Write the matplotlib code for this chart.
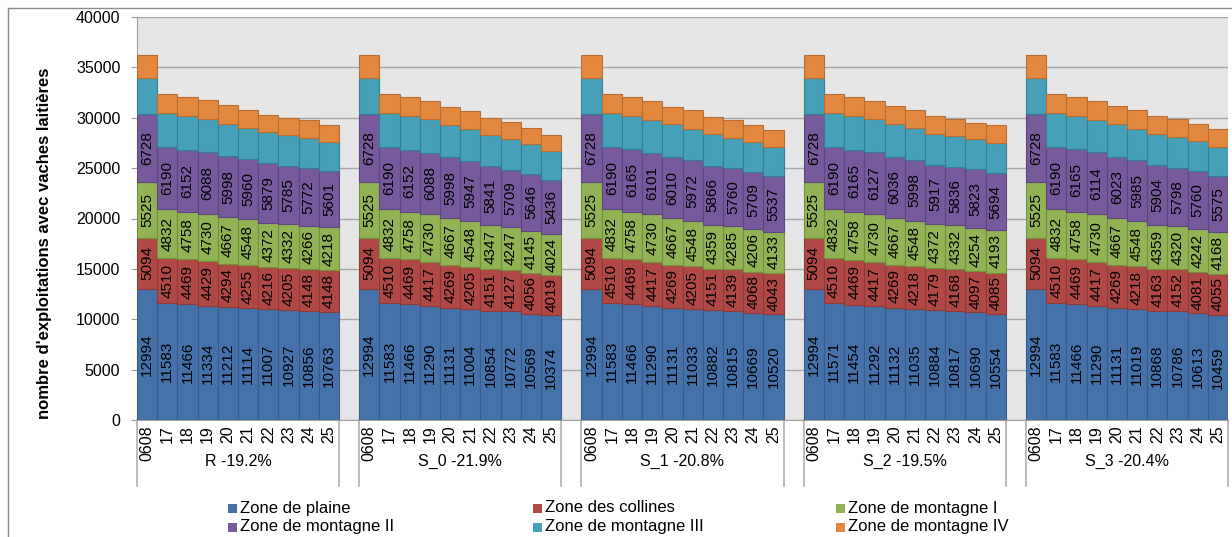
import numpy as np
import matplotlib
matplotlib.use("Agg")
import matplotlib.pyplot as plt
from matplotlib.patches import Rectangle
from matplotlib.lines import Line2D

plt.rcParams["font.family"] = ["Liberation Sans", "DejaVu Sans"]

years = ["0608", "17", "18", "19", "20", "21", "22", "23", "24", "25"]
scenarios = ["R -19.2%", "S_0 -21.9%", "S_1 -20.8%", "S_2 -19.5%", "S_3 -20.4%"]

zones = ["Zone de plaine", "Zone des collines", "Zone de montagne I",
         "Zone de montagne II", "Zone de montagne III", "Zone de montagne IV"]
colors = ["#4672AA", "#B04945", "#91B255", "#765A9C", "#45A0B8", "#E2873E"]
edges = ["#385C8C", "#8E3A37", "#75913F", "#5E477F", "#357F93", "#B86D31"]

# one row per scenario, one value per year
plaine = [
    [12994, 11583, 11466, 11334, 11212, 11114, 11007, 10927, 10856, 10763],
    [12994, 11583, 11466, 11290, 11131, 11004, 10854, 10772, 10569, 10374],
    [12994, 11583, 11466, 11290, 11131, 11033, 10882, 10815, 10669, 10520],
    [12994, 11571, 11454, 11292, 11132, 11035, 10884, 10817, 10690, 10554],
    [12994, 11583, 11466, 11290, 11131, 11019, 10868, 10786, 10613, 10459],
]
collines = [
    [5094, 4510, 4469, 4429, 4294, 4255, 4216, 4205, 4148, 4148],
    [5094, 4510, 4469, 4417, 4269, 4205, 4151, 4127, 4056, 4019],
    [5094, 4510, 4469, 4417, 4269, 4205, 4151, 4139, 4068, 4043],
    [5094, 4510, 4469, 4417, 4269, 4218, 4179, 4168, 4097, 4085],
    [5094, 4510, 4469, 4417, 4269, 4218, 4163, 4152, 4081, 4055],
]
montagne1 = [
    [5525, 4832, 4758, 4730, 4667, 4548, 4372, 4332, 4266, 4218],
    [5525, 4832, 4758, 4730, 4667, 4548, 4347, 4247, 4145, 4024],
    [5525, 4832, 4758, 4730, 4667, 4548, 4359, 4285, 4206, 4133],
    [5525, 4832, 4758, 4730, 4667, 4548, 4372, 4332, 4254, 4193],
    [5525, 4832, 4758, 4730, 4667, 4548, 4359, 4320, 4242, 4168],
]
montagne2 = [
    [6728, 6190, 6152, 6088, 5998, 5960, 5879, 5785, 5772, 5601],
    [6728, 6190, 6152, 6088, 5998, 5947, 5841, 5709, 5646, 5436],
    [6728, 6190, 6165, 6101, 6010, 5972, 5866, 5760, 5709, 5537],
    [6728, 6190, 6165, 6127, 6036, 5998, 5917, 5836, 5823, 5694],
    [6728, 6190, 6165, 6114, 6023, 5985, 5904, 5798, 5760, 5575],
]
montagne3 = [
    [3648, 3392, 3331, 3329, 3242, 3105, 3110, 3070, 2945, 2859],
    [3648, 3392, 3331, 3319, 3248, 3145, 3126, 2999, 2974, 2841],
    [3648, 3392, 3318, 3273, 3270, 3158, 3094, 2988, 2937, 2859],
    [3648, 3404, 3330, 3344, 3243, 3183, 3066, 3033, 3057, 2997],
    [3648, 3392, 3318, 3260, 3257, 3146, 3058, 3031, 2993, 2868],
]
montagne4 = [
    [2255, 1890, 1890, 1824, 1824, 1790, 1724, 1691, 1758, 1724],
    [2255, 1890, 1890, 1791, 1758, 1791, 1691, 1692, 1625, 1625],
    [2255, 1890, 1890, 1824, 1724, 1823, 1724, 1758, 1658, 1658],
    [2255, 1890, 1890, 1725, 1790, 1757, 1791, 1724, 1591, 1724],
    [2255, 1890, 1890, 1824, 1790, 1823, 1790, 1757, 1724, 1724],
]
series = [plaine, collines, montagne1, montagne2, montagne3, montagne4]
labelled = 4  # only the four lower zones carry value labels

W, H = 1232, 537
fig = plt.figure(figsize=(W / 100, H / 100), dpi=100)
ax = fig.add_axes([137 / W, (H - 420) / H, 1091 / W, 403 / H])
ax.set_facecolor("#E6E6E6")

n_years = len(years)
step = n_years + 1  # one empty slot between scenarios
x = np.array([g * step + i for g in range(len(scenarios)) for i in range(n_years)])

bottom = np.zeros(len(x))
for k, (zone, vals) in enumerate(zip(zones, series)):
    v = np.array(vals).ravel()
    bars = ax.bar(x, v, width=1.0, bottom=bottom, color=colors[k],
                  edgecolor=edges[k], linewidth=0.8, label=zone, zorder=3)
    if k < labelled:
        ax.bar_label(bars, labels=[str(t) for t in v], label_type="center",
                     rotation=90, fontsize=11, color="black")
    bottom += v

ax.set_ylim(0, 40000)
ax.set_xlim(-0.5, len(scenarios) * step - 1.5)
ax.set_yticks(np.arange(0, 40001, 5000))
ax.yaxis.grid(True, color="#A6A6A6", linewidth=1.0, zorder=0)
ax.set_axisbelow(True)
ax.tick_params(axis="y", labelsize=11.5, length=4, color="#A0A0A0", pad=8)

ax.set_xticks(x)
ax.set_xticklabels(years * len(scenarios), rotation=90, fontsize=11.5,
                   va="top")
ax.tick_params(axis="x", length=0, pad=4)

for side in ["top", "right"]:
    ax.spines[side].set_visible(False)
for side in ["left", "bottom"]:
    ax.spines[side].set_color("#A0A0A0")

# group separators and scenario names under the axis
trans = ax.get_xaxis_transform()
drop = -66 / 403
for g, name in enumerate(scenarios):
    left = g * step - 0.5
    right = left + n_years
    for xb in (left, right):
        ax.add_line(Line2D([xb, xb], [0, drop], transform=trans,
                           color="#B0B0B0", linewidth=1.2, clip_on=False))
    ax.text((left + right) / 2, -41 / 403, name, transform=trans,
            ha="center", va="center", fontsize=11.5)

fig.text(45 / W, 1 - 243 / H, "nombre d'exploitations avec vaches laitières",
         rotation=90, ha="center", va="center", fontsize=12, fontweight="bold")

# legend laid out in three columns, filled row by row
col_x = [228, 533, 836]
row_y = [508, 527]
for k, zone in enumerate(zones):
    cx = col_x[k % 3]
    cy = row_y[k // 3]
    fig.patches.append(Rectangle((cx / W, 1 - (cy + 4.5) / H), 9 / W, 9 / H,
                                 transform=fig.transFigure,
                                 facecolor=colors[k], edgecolor="none"))
    fig.text((cx + 12) / W, 1 - cy / H, zone, ha="left", va="center",
             fontsize=12)

# chart frame
fig.add_artist(Line2D([8 / W, 8 / W], [0, 1 - 8 / H], transform=fig.transFigure,
                      color="#8C8C8C", linewidth=1))
fig.add_artist(Line2D([8 / W, 1], [1 - 8 / H, 1 - 8 / H],
                      transform=fig.transFigure, color="#8C8C8C", linewidth=1))

fig.savefig("out.png", dpi=100)
